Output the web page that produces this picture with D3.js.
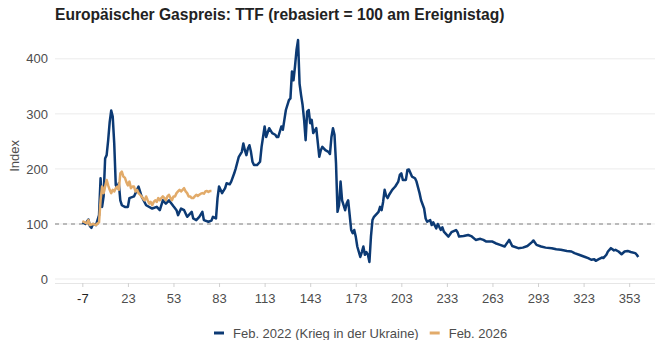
<!DOCTYPE html>
<html>
<head>
<meta charset="utf-8">
<script src="https://cdn.jsdelivr.net/npm/d3@7"></script>
<style>
  html, body { margin: 0; padding: 0; background: #fff; }
  svg { display: block; font-family: "Liberation Sans", Arial, sans-serif; }
</style>
</head>
<body>
<svg id="chart" width="663" height="340"></svg>
<script>
// TTF gas price, rebased to 100 on the event day (day 0)
const titleText = "Europäischer Gaspreis: TTF (rebasiert = 100 am Ereignistag)";
const yLabel = "Index";
const seriesNames = ["Feb. 2022 (Krieg in der Ukraine)", "Feb. 2026"];

const xTicks = [-7, 23, 53, 83, 113, 143, 173, 203, 233, 263, 293, 323, 353];
const yTicks = [0, 100, 200, 300, 400];

// Feb. 2022 – days relative to the invasion
const days2022 = [
  -7, -5, -3, -2, -1, 0, 2, 4, 5, 6,
  7, 8, 9, 10, 11, 12, 13, 14, 15, 16,
  17, 18, 19, 21, 23, 24, 27, 30, 32, 35,
  39, 42, 44, 46, 48, 50, 53, 55, 56, 58,
  60, 62, 65, 66, 68, 70, 72, 73, 76, 78,
  79, 81, 82, 83, 85, 87, 88, 90, 91, 93,
  94, 96, 98, 99, 100, 101, 102, 103, 104, 105,
  106, 108, 110, 111, 113, 114, 116, 118, 120, 121,
  122, 124, 125, 126, 127, 129, 130, 131, 132, 133,
  134, 135, 136, 137, 138, 139, 140, 141, 142, 143,
  144, 145, 147, 149, 150, 151, 153, 155, 156, 157,
  158, 159, 160, 161, 162, 163, 164, 166, 167, 168,
  169, 170, 171, 172, 173, 174, 176, 177, 178, 179,
  180, 181, 182, 183, 184, 185, 188, 189, 190, 191,
  192, 193, 194, 195, 197, 199, 201, 202, 203, 204,
  206, 207, 208, 210, 212, 213, 215, 216, 218, 219,
  220, 222, 223, 224, 226, 227, 229, 230, 231, 234,
  236, 239, 240, 241, 244, 247, 249, 252, 255, 257,
  259, 261, 263, 265, 268, 271, 273, 274, 276, 280,
  283, 286, 289, 290, 292, 295, 298, 302, 305, 308,
  312, 315, 317, 320, 324, 326, 328, 330, 331, 333,
  335, 336, 338, 339, 340, 341, 343, 344, 346, 348,
  350, 352, 354, 357, 358, 359];
const values2022 = [
  103, 100, 108, 96, 93, 100, 98, 116, 183, 131,
  150, 219, 225, 252, 285, 306, 295, 246, 171, 165,
  174, 143, 134, 131, 131, 147, 150, 168, 150, 134,
  128, 131, 125, 143, 137, 143, 132, 125, 116, 128,
  125, 113, 122, 110, 107, 113, 122, 107, 104, 106,
  113, 110, 147, 168, 156, 165, 174, 172, 177, 192,
  201, 222, 231, 246, 234, 225, 237, 243, 231, 213,
  207, 207, 213, 240, 277, 258, 274, 265, 262, 258,
  258, 277, 271, 289, 307, 325, 328, 377, 361, 386,
  416, 434, 355, 334, 316, 289, 252, 304, 307, 283,
  289, 265, 274, 222, 234, 240, 234, 231, 227, 258,
  274, 262, 210, 122, 134, 177, 143, 125, 137, 143,
  116, 89, 83, 89, 77, 59, 40, 49, 59, 44,
  49, 44, 31, 77, 107, 113, 122, 131, 125, 140,
  162, 151, 147, 153, 162, 168, 177, 189, 192, 180,
  180, 198, 199, 186, 183, 177, 156, 143, 128, 110,
  104, 107, 98, 103, 92, 100, 89, 94, 86, 77,
  85, 89, 85, 77, 78, 80, 78, 71, 73, 71,
  68, 68, 68, 65, 62, 59, 67, 71, 60, 56,
  57, 60, 67, 70, 62, 59, 57, 56, 54, 53,
  51, 50, 47, 44, 40, 38, 35, 36, 33, 36,
  39, 38, 44, 50, 53, 56, 52, 53, 50, 45,
  50, 51, 49, 47, 44, 40];

// Feb. 2026 – days relative to the event day
const days2026 = [
  -7, -4, -3, -2, 0, 2, 3, 4, 5, 6,
  7, 8, 9, 10, 11, 12, 13, 14, 15, 16,
  17, 18, 19, 20, 21, 22, 23, 24, 25, 26,
  27, 28, 29, 30, 31, 32, 33, 34, 35, 36,
  37, 38, 39, 40, 41, 42, 43, 44, 45, 46,
  47, 48, 49, 50, 51, 52, 53, 54, 55, 56,
  57, 58, 59, 60, 61, 62, 63, 64, 65, 66,
  67, 68, 69, 70, 71, 72, 73, 74, 75, 76,
  77, 78];
const values2026 = [
  105, 101, 107, 98, 100, 98, 101, 103, 143, 168,
  156, 168, 180, 170, 162, 156, 162, 159, 165, 168,
  162, 192, 195, 186, 184, 176, 170, 177, 165, 168,
  168, 159, 162, 156, 153, 150, 146, 143, 150, 143,
  137, 140, 134, 140, 143, 140, 147, 143, 147, 150,
  147, 143, 150, 153, 147, 143, 150, 150, 156, 159,
  162, 159, 162, 165, 159, 156, 150, 150, 147, 147,
  150, 153, 151, 153, 155, 156, 155, 159, 160, 158,
  160, 160];

const colors = ["#0c3a74", "#e2ab6a"];

const svg = d3.select("#chart");
const W = 663, H = 340;
const margin = { left: 55, right: 8, top: 40, bottom: 61 };

const x = d3.scaleLinear().domain([-25, 370]).range([margin.left, W - margin.right]);
const y = d3.scaleLinear().domain([0, 400]).range([H - margin.bottom, 58.8]);

// title
svg.append("text")
  .attr("x", 55).attr("y", 20)
  .attr("font-size", 15.6).attr("font-weight", "bold").attr("fill", "#222")
  .text(titleText);

// horizontal grid
svg.append("g").selectAll("line").data(yTicks).join("line")
  .attr("x1", margin.left).attr("x2", W - margin.right)
  .attr("y1", d => y(d)).attr("y2", d => y(d))
  .attr("stroke", "#ebebeb").attr("stroke-width", 1);

// y axis labels
const yAxis = d3.axisLeft(y).tickValues(yTicks).tickSize(0).tickPadding(0).tickFormat(d => String(d));
const gy = svg.append("g").attr("transform", `translate(${margin.left - 7},0)`).call(yAxis);
gy.select(".domain").remove();
gy.selectAll("text").attr("font-size", 13).attr("fill", "#4d4d4d").attr("font-family", "Liberation Sans, Arial, sans-serif");

svg.append("text")
  .attr("transform", `translate(19,${y(200) - 13}) rotate(-90)`)
  .attr("text-anchor", "middle")
  .attr("font-size", 13).attr("fill", "#4d4d4d")
  .text(yLabel);

// x axis
const xAxis = d3.axisBottom(x).tickValues(xTicks).tickSize(4).tickPadding(7).tickFormat(d => String(d));
const gx = svg.append("g").attr("transform", `translate(0,${y(0) + 4})`).call(xAxis);
gx.select(".domain").attr("stroke", "#e6e6e6").attr("stroke-width", 1)
  .attr("d", `M${margin.left},0.5H${W - margin.right}`);
gx.selectAll(".tick line").attr("stroke", "#d0d0d0");
gx.selectAll("text").attr("font-size", 13).attr("fill", "#4d4d4d").attr("font-family", "Liberation Sans, Arial, sans-serif");
gx.selectAll("text").filter(d => d < 0).attr("fill", "#222");

// reference line at 100
svg.append("line")
  .attr("x1", margin.left).attr("x2", W - margin.right)
  .attr("y1", y(100)).attr("y2", y(100))
  .attr("stroke", "#a6a6a6").attr("stroke-width", 1.5).attr("stroke-dasharray", "4,4");

// series
const line = d3.line().x(d => x(d[0])).y(d => y(d[1]));
const s2022 = days2022.map((d, i) => [d, values2022[i]]);
const s2026 = days2026.map((d, i) => [d, values2026[i]]);

svg.append("path").datum(s2022).attr("d", line)
  .attr("fill", "none").attr("stroke", colors[0]).attr("stroke-width", 2.5).attr("stroke-linejoin", "round");
svg.append("path").datum(s2026).attr("d", line)
  .attr("fill", "none").attr("stroke", colors[1]).attr("stroke-width", 2.5).attr("stroke-linejoin", "round");

// legend
const legend = svg.append("g").attr("transform", "translate(0,333)");
let lx = 214;
seriesNames.forEach((name, i) => {
  legend.append("line").attr("x1", lx).attr("x2", lx + 10).attr("y1", 0).attr("y2", 0)
    .attr("stroke", colors[i]).attr("stroke-width", 3);
  const t = legend.append("text").attr("x", lx + 19).attr("y", 4.5)
    .attr("font-size", 13).attr("fill", "#4d4d4d").text(name);
  lx += 19 + t.node().getComputedTextLength() + 11;
});
</script>
</body>
</html>
